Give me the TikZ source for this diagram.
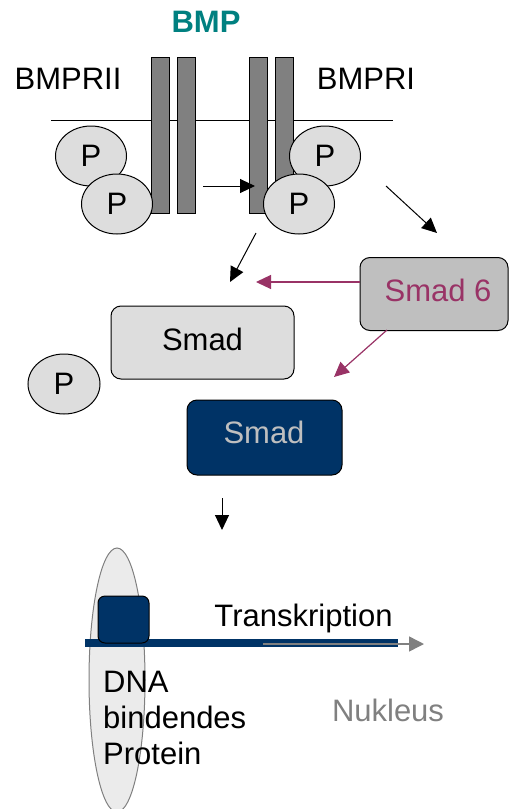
\documentclass[tikz,border=0pt]{standalone}
\usepackage{fontspec}
\setmainfont{Liberation Sans}
\usetikzlibrary{arrows.meta, shapes.geometric}

\definecolor{bmpteal}{HTML}{008080}
\definecolor{smadblue}{HTML}{003366}
\definecolor{smadrot}{HTML}{993366}
\definecolor{hellgrau}{HTML}{DDDDDD}

\tikzset{
    every node/.style={font=\fontsize{31}{36}\selectfont, inner sep=0pt},
    receptor/.style={rectangle, draw, line width=1pt, fill=gray, minimum width=18pt, minimum height=156pt},
    phos/.style={ellipse, draw, line width=1pt, fill=hellgrau, minimum width=71pt, minimum height=60pt},
    smadbox/.style={rectangle, rounded corners=10pt, draw, line width=1pt},
    pfeil/.style={-{Triangle[length=15pt, width=14pt]}, line width=1pt}
}

\begin{document}
\begin{tikzpicture}[x=1pt, y=-1pt]
            \useasboundingbox (0,0) rectangle (509,809);

            % Membran und Rezeptoren
            \draw[line width=1pt] (51,120) -- (393,120);
            \node[receptor] at (160,135)   (r1) {};
            \node[receptor] at (186,135)   (r2) {};
            \node[receptor] at (258,135)   (r3) {};
            \node[receptor] at (284.5,135) (r4) {};

            \node[text=bmpteal, font=\fontsize{31}{36}\selectfont\bfseries] at (206,22) (bmp) {BMP};
            \node at (68,79)  (bmpr2) {BMPRII};
            \node at (366,79) (bmpr1) {BMPRI};

            \node[phos] at (91,156)  (p1) {P};
            \node[phos] at (117,204) (p2) {P};
            \node[phos] at (325,156) (p3) {P};
            \node[phos] at (299,204) (p4) {P};

            % Smads
            \node[smadbox, fill=lightgray, minimum width=148pt, minimum height=73pt] at (434,294) (smad6) {};
            \node[text=smadrot] at (438,290) (smad6text) {Smad 6};
            \node[smadbox, fill=hellgrau, minimum width=183pt, minimum height=73pt] at (202.5,342.5) (smad) {};
            \node at (202.5,339) (smadtext) {Smad};
            \node[smadbox, fill=smadblue, minimum width=155pt, minimum height=75pt] at (264.5,437.5) (smadp) {};
            \node[text=lightgray] at (264,432) (smadptext) {Smad};
            \node[phos, minimum width=72pt] at (64,384) (p5) {P};

            \coordinate (a1) at (203,186);
            \coordinate (a2) at (255,186);
            \coordinate (b1) at (386,186);
            \coordinate (b2) at (437,233);
            \coordinate (c1) at (256,233);
            \coordinate (c2) at (230,282);
            \coordinate (d1) at (360,282);
            \coordinate (d2) at (256,282);
            \coordinate (e1) at (387,330);
            \coordinate (e2) at (334,377);
            \coordinate (f1) at (222,498);
            \coordinate (f2) at (222,530);

            \draw [pfeil] (a1) -- (a2);
            \draw [pfeil] (b1) -- (b2);
            \draw [pfeil] (c1) -- (c2);
            \draw [pfeil, smadrot, line width=1.2pt] (d1) -- (d2);
            \draw [pfeil, smadrot, line width=1.2pt] (e1) -- (e2);
            \draw [pfeil] (f1) -- (f2);

            % Nukleus
            \node[ellipse, draw=gray, line width=1pt, fill=black!8, minimum width=56pt, minimum height=264pt] at (117,680) (dbp) {};
            \coordinate (dna1) at (85,643);
            \coordinate (dna2) at (398,643);
            \draw[smadblue, line width=8pt] (dna1) -- (dna2);
            \node[smadbox, fill=smadblue, rounded corners=7pt, minimum width=51pt, minimum height=47pt] at (123.5,619.5) (smadkern) {};
            \coordinate (t1) at (263,644);
            \coordinate (t2) at (424,644);
            \draw[-{Triangle[length=15pt, width=15pt]}, gray, line width=1.5pt] (t1) -- (t2);

            \node[anchor=base] at (303.5,626) (trans) {Transkription};
            \node[anchor=north west, align=left] at (103,671) (dbptext) {DNA\\bindendes\\Protein};
            \node[text=gray] at (388,710) (nukleus) {Nukleus};
        \end{tikzpicture}
\end{document}
